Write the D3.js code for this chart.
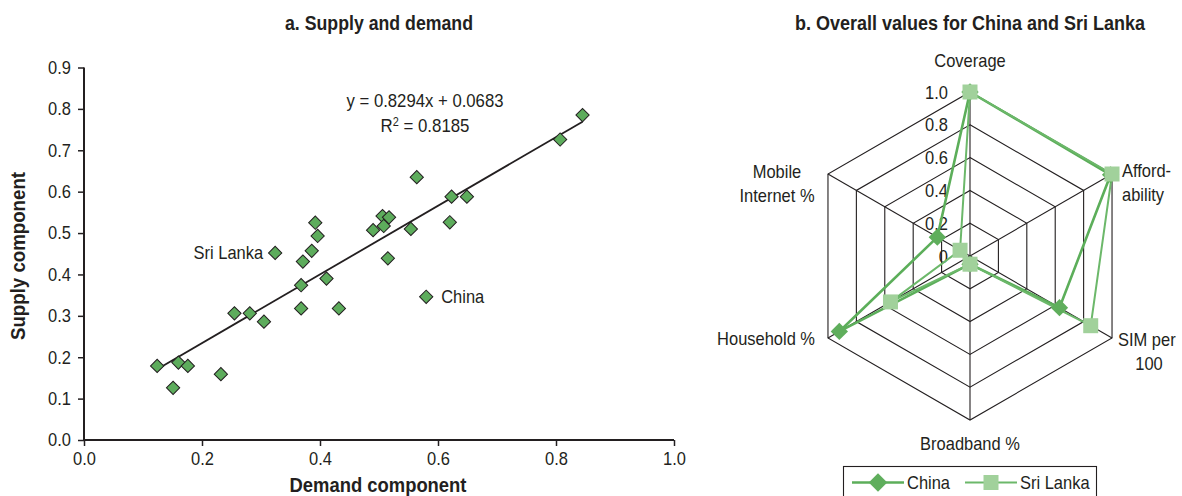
<!DOCTYPE html>
<html>
<head>
<meta charset="utf-8">
<script src="https://cdn.jsdelivr.net/npm/d3@7"></script>
<style>
  html, body { margin: 0; padding: 0; background: #fff; }
  svg text { font-family: "Liberation Sans", Arial, sans-serif; fill: #231f20; }
</style>
</head>
<body>
<svg id="chart" width="1182" height="496"></svg>
<script>
// ---- Panel a data: demand (x) and supply (y) components ----
const demand = [0.124, 0.151, 0.160, 0.176, 0.232, 0.255, 0.281, 0.305, 0.324, 0.368,
                0.368, 0.371, 0.386, 0.392, 0.396, 0.411, 0.432, 0.490, 0.506, 0.508,
                0.517, 0.515, 0.554, 0.564, 0.580, 0.620, 0.623, 0.649, 0.807, 0.845];
const supply = [0.179, 0.126, 0.187, 0.179, 0.159, 0.306, 0.306, 0.286, 0.452, 0.318,
                0.374, 0.431, 0.457, 0.525, 0.493, 0.390, 0.318, 0.507, 0.541, 0.517,
                0.538, 0.439, 0.510, 0.635, 0.346, 0.526, 0.588, 0.588, 0.726, 0.785];
const pointLabels = [{name: "Sri Lanka", idx: 8, side: "left"}, {name: "China", idx: 24, side: "right"}];
const trendSlope = 0.8294, trendIntercept = 0.0683;
const trendText = ["y = 0.8294x + 0.0683", "R2 = 0.8185"];
const xTicksA = [0, 0.2, 0.4, 0.6, 0.8, 1.0];
const yTicksA = [0, 0.1, 0.2, 0.3, 0.4, 0.5, 0.6, 0.7, 0.8, 0.9];

// ---- Panel b data: radar ----
const radarAxes = [["Coverage"], ["Afford-", "ability"], ["SIM per", "100"], ["Broadband %"], ["Household %"], ["Mobile", "Internet %"]];
const chinaValues = [1.0, 0.99, 0.63, 0.05, 0.92, 0.23];
const sriLankaValues = [1.0, 1.0, 0.85, 0.05, 0.56, 0.07];
const radarTicks = [0, 0.2, 0.4, 0.6, 0.8, 1.0];
const radarTickLabels = ["0", "0.2", "0.4", "0.6", "0.8", "1.0"];

const svg = d3.select("#chart");
const ink = "#231f20";
const fs = 18.5;
const fsB = 19.5;

// ================= Panel a =================
const x = d3.scaleLinear().domain([0, 1]).range([84, 674]);
const y = d3.scaleLinear().domain([0, 0.9]).range([440, 67.5]);
const gA = svg.append("g");

gA.append("text").attr("x", 379).attr("y", 30).attr("text-anchor", "middle").attr("data-w", 188)
  .attr("font-weight", "bold").attr("font-size", fsB).text("a. Supply and demand");

const xAxis = gA.append("g").attr("transform", "translate(0,440)")
  .call(d3.axisBottom(x).tickValues(xTicksA).tickFormat(d3.format(".1f")).tickSizeOuter(0).tickSize(6).tickPadding(6));
const yAxis = gA.append("g").attr("transform", "translate(84,0)")
  .call(d3.axisLeft(y).tickValues(yTicksA).tickFormat(d3.format(".1f")).tickSizeOuter(0).tickSize(6).tickPadding(7));
[xAxis, yAxis].forEach(a => {
  a.select(".domain").attr("stroke", ink).attr("stroke-width", 2);
  a.selectAll(".tick line").attr("stroke", ink).attr("stroke-width", 1.5);
  a.selectAll(".tick text").attr("font-size", fs).attr("fill", ink)
    .style("font-family", '"Liberation Sans", Arial, sans-serif');
});
xAxis.select(".domain").attr("d", "M" + (x(0) - 1) + ",0H" + x(1));
yAxis.select(".domain").attr("d", "M0," + (y(0) + 1) + "V" + y(0.9));

gA.append("text").attr("x", 378).attr("y", 492).attr("text-anchor", "middle").attr("data-w", 177)
  .attr("font-weight", "bold").attr("font-size", fsB).text("Demand component");
gA.append("text").attr("transform", "translate(25,256) rotate(-90)").attr("text-anchor", "middle").attr("data-w", 168)
  .attr("font-weight", "bold").attr("font-size", fsB).text("Supply component");

// trendline
const xMin = d3.min(demand), xMax = d3.max(demand);
gA.append("line")
  .attr("x1", x(xMin)).attr("y1", y(trendSlope * xMin + trendIntercept))
  .attr("x2", x(xMax)).attr("y2", y(trendSlope * xMax + trendIntercept))
  .attr("stroke", ink).attr("stroke-width", 1.8);

// points
const diamond = d3.symbol().type(d3.symbolSquare).size(88);
gA.selectAll("path.pt").data(demand).join("path").attr("class", "pt")
  .attr("d", diamond)
  .attr("transform", (d, i) => `translate(${x(d)},${y(supply[i])}) rotate(45)`)
  .attr("fill", "#5dac5c").attr("stroke", ink).attr("stroke-width", 1);

pointLabels.forEach(p => {
  const px = x(demand[p.idx]), py = y(supply[p.idx]);
  gA.append("text").attr("x", p.side === "left" ? px - 12 : px + 15).attr("y", py + 6.5)
    .attr("text-anchor", p.side === "left" ? "end" : "start").attr("font-size", fs).text(p.name);
});

// equation text
gA.append("text").attr("x", 425).attr("y", 107).attr("text-anchor", "middle").attr("data-w", 157)
  .attr("font-size", fs).text(trendText[0]);
const r2 = gA.append("text").attr("x", 425).attr("y", 132).attr("text-anchor", "middle").attr("data-w", 89).attr("font-size", fs);
r2.append("tspan").text("R");
r2.append("tspan").attr("dy", -6).attr("font-size", 12).text("2");
r2.append("tspan").attr("dy", 6).text(trendText[1].slice(2));

// ================= Panel b =================
const cx = 970, cy = 256, R = 164;
const rScale = d3.scaleLinear().domain([0, 1]).range([0, R]);
const n = radarAxes.length;
const ang = i => -Math.PI / 2 + i * 2 * Math.PI / n;
const pt = (i, v) => [cx + rScale(v) * Math.cos(ang(i)), cy + rScale(v) * Math.sin(ang(i))];
const gB = svg.append("g");

gB.append("text").attr("x", 970).attr("y", 30).attr("text-anchor", "middle").attr("data-w", 350)
  .attr("font-weight", "bold").attr("font-size", fsB).text("b. Overall values for China and Sri Lanka");

radarTicks.filter(t => t > 0).forEach(t => {
  gB.append("path").attr("d", d3.line()(d3.range(n).map(i => pt(i, t))) + "Z")
    .attr("fill", "none").attr("stroke", ink).attr("stroke-width", 1.1);
});
d3.range(n).forEach(i => {
  const [ex, ey] = pt(i, 1);
  gB.append("line").attr("x1", cx).attr("y1", cy).attr("x2", ex).attr("y2", ey)
    .attr("stroke", ink).attr("stroke-width", 1.1);
});

radarTicks.forEach((t, k) => {
  gB.append("text").attr("x", cx - 22).attr("y", cy - rScale(t) + 6.5)
    .attr("text-anchor", "end").attr("font-size", fs).text(radarTickLabels[k]);
});

const labelPos = [
  {x: 970, y: 67, anchor: "middle"},
  {x: 1122, y: 177, anchor: "start"},
  {x: 1118, y: 346, anchor: "start", second: {x: 1149, anchor: "middle"}},
  {x: 970, y: 450, anchor: "middle"},
  {x: 815, y: 345, anchor: "end"},
  {x: 777, y: 178, anchor: "middle"}
];
radarAxes.forEach((lines, i) => {
  const lp = labelPos[i];
  lines.forEach((ln, j) => {
    const s = (j === 1 && lp.second) ? lp.second : lp;
    gB.append("text").attr("x", s.x).attr("y", lp.y + j * 24)
      .attr("text-anchor", s.anchor).attr("font-size", fs).text(ln);
  });
});

const series = [
  {name: "China", values: chinaValues, line: "#5cae5a", width: 2.6, marker: "diamond", fill: "#5fae5c"},
  {name: "Sri Lanka", values: sriLankaValues, line: "#6cb86a", width: 2, marker: "square", fill: "#a1d19b"}
];
series.forEach(s => {
  gB.append("path").attr("d", d3.line()(s.values.map((v, i) => pt(i, v))) + "Z")
    .attr("fill", "none").attr("stroke", s.line).attr("stroke-width", s.width).attr("stroke-linejoin", "miter");
});
function markerTransform(m, px, py) { return m === "diamond" ? `translate(${px},${py}) rotate(45)` : `translate(${px},${py})`; }
series.forEach(s => {
  s.values.forEach((v, i) => {
    const [px, py] = pt(i, v);
    gB.append("path").attr("d", d3.symbol().type(d3.symbolSquare).size(s.marker === "diamond" ? 150 : 225)())
      .attr("transform", markerTransform(s.marker, px, py)).attr("fill", s.fill);
  });
});

// legend
const lg = gB.append("g");
lg.append("rect").attr("x", 843.5).attr("y", 466.5).attr("width", 253).attr("height", 40)
  .attr("fill", "#fff").attr("stroke", ink).attr("stroke-width", 1.1);
series.forEach((s, k) => {
  const x0 = k === 0 ? 852 : 965, x1 = k === 0 ? 904 : 1017, ly = 482.5;
  lg.append("line").attr("x1", x0).attr("x2", x1).attr("y1", ly).attr("y2", ly)
    .attr("stroke", s.line).attr("stroke-width", s.width);
  lg.append("path").attr("d", d3.symbol().type(d3.symbolSquare).size(s.marker === "diamond" ? 170 : 225)())
    .attr("transform", markerTransform(s.marker, (x0 + x1) / 2, ly)).attr("fill", s.fill);
  lg.append("text").attr("x", x1 + 3).attr("y", 489).attr("font-size", fs).text(s.name);
});

// condense all text horizontally (reference uses a condensed face)
svg.selectAll("text").each(function () {
  const L = this.getComputedTextLength();
  const w = this.getAttribute("data-w");
  if (L > 0) d3.select(this).attr("textLength", (w ? +w : L * 0.89).toFixed(1)).attr("lengthAdjust", "spacingAndGlyphs");
});
</script>
</body>
</html>
